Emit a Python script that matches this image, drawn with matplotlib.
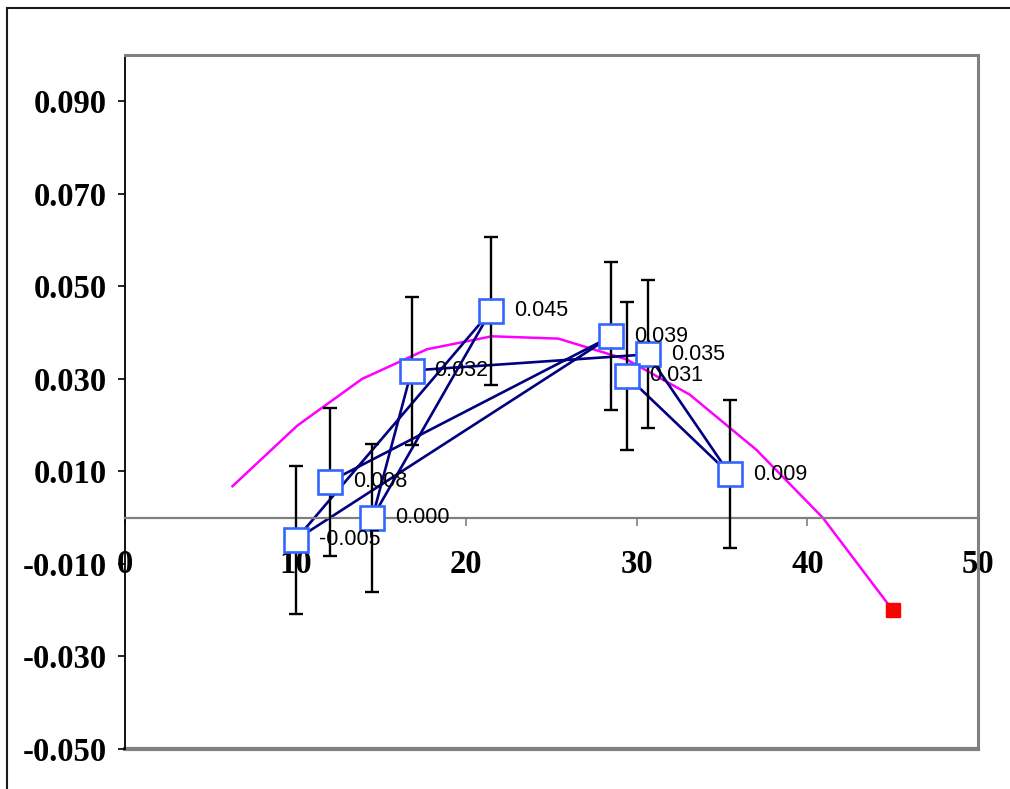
import matplotlib
matplotlib.use("Agg")
import matplotlib.pyplot as plt
from matplotlib.patches import Rectangle

# measured points, in the order they were recorded
x_obs = [12.0, 28.5, 10.0, 21.45, 14.5, 16.8, 30.65, 35.45, 29.4]
y_obs = [0.0078, 0.0392, -0.0048, 0.0447, 0.0, 0.0318, 0.0353, 0.0094, 0.0307]
y_err = [0.016, 0.016, 0.016, 0.016, 0.016, 0.016, 0.016, 0.016, 0.016]

# smooth trend curve and its end point
x_fit = [6.3, 10.1, 13.9, 17.7, 21.5, 25.4, 29.4, 33.1, 37.0, 40.9, 45.0]
y_fit = [0.0068, 0.0199, 0.0300, 0.0364, 0.0392, 0.0387, 0.0342, 0.0266, 0.0147, 0.0, -0.020]
x_end = [45.0]
y_end = [-0.020]

x_ticks = [0, 10, 20, 30, 40, 50]
y_ticks = [-0.05, -0.03, -0.01, 0.01, 0.03, 0.05, 0.07, 0.09]

fig = plt.figure(figsize=(10.1, 7.89), dpi=100)
ax = fig.add_axes([125 / 1010, 1 - 749 / 789, (978 - 125) / 1010, (749 - 55) / 789])

ax.plot(x_fit, y_fit, color="#FF00FF", lw=1.8, zorder=2)
ax.plot(x_obs, y_obs, color="#000080", lw=1.9, zorder=2)
ax.errorbar(x_obs, y_obs, yerr=y_err, fmt="none", ecolor="black",
            elinewidth=1.7, capsize=5, capthick=1.7, zorder=3)
ax.plot(x_obs, y_obs, ls="none", marker="s", ms=17.5, mfc="white",
        mec="#3366FF", mew=1.9, zorder=5)
ax.plot(x_end, y_end, ls="none", marker="s", ms=10.5, color="red", zorder=6)

for xv, yv in zip(x_obs, y_obs):
    ax.annotate(f"{yv:.3f}", (xv, yv), xytext=(16.5, 0), textcoords="offset points",
                ha="left", va="center", fontsize=15.5, family="Liberation Sans",
                color="black", zorder=7)

ax.set_xlim(0, 50)
ax.set_ylim(-0.05, 0.10)

# frame: black value axis, grey border, category axis through zero
ax.spines["left"].set_color("black")
ax.spines["left"].set_linewidth(1.3)
for side in ("top", "right"):
    ax.spines[side].set_color("#808080")
    ax.spines[side].set_linewidth(2.2)
ax.spines["bottom"].set_position(("data", 0))
ax.spines["bottom"].set_color("#808080")
ax.spines["bottom"].set_linewidth(1.6)
ax.plot([0, 1], [0, 0], transform=ax.transAxes, color="#808080", lw=3,
        clip_on=False, zorder=1)

ax.set_xticks(x_ticks)
ax.set_xticklabels([str(t) for t in x_ticks])
ax.set_yticks(y_ticks)
ax.set_yticklabels([f"{t:.3f}".replace("\u2212", "-") for t in y_ticks])
ax.tick_params(axis="x", direction="out", length=5.5, width=1.2, color="#808080",
               pad=17, labelsize=23.5)
ax.tick_params(axis="y", direction="out", length=5, width=1.2, color="black",
               pad=8, labelsize=23.5)
for lbl in ax.get_xticklabels() + ax.get_yticklabels():
    lbl.set_fontfamily("Liberation Serif")
    lbl.set_fontweight("bold")

# outer chart border
fig.patches.append(Rectangle((7 / 1010, -0.05), 1.1, 1 - 8 / 789 + 0.05,
                             transform=fig.transFigure, fill=False,
                             ec="#1a1a1a", lw=1.5))

fig.savefig("out.png", dpi=100)
